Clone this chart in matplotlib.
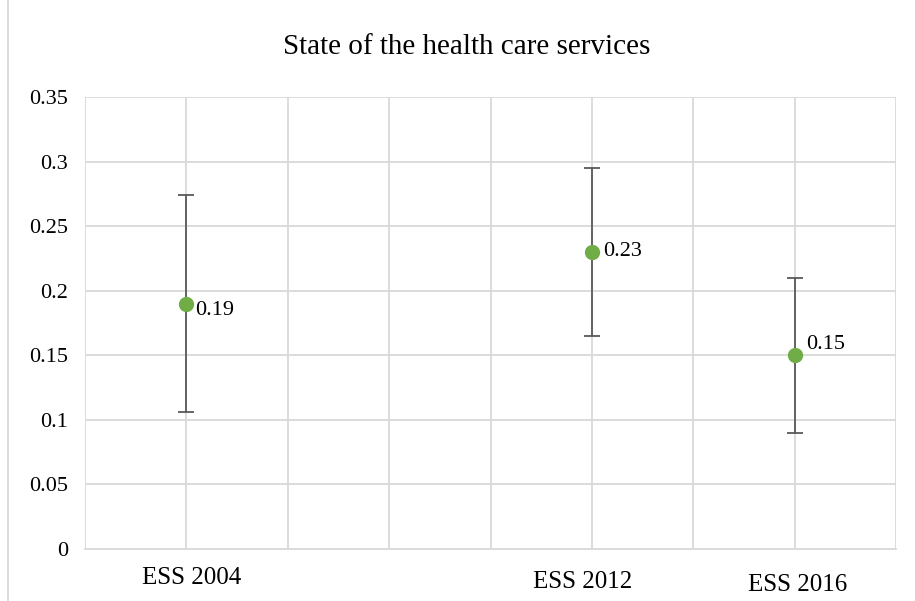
import numpy as np
import matplotlib.pyplot as plt
from matplotlib.lines import Line2D
from matplotlib.transforms import blended_transform_factory

plt.rcParams['font.family'] = ['Liberation Serif', 'DejaVu Serif']

# survey waves, means and 95% intervals
waves = ['ESS 2004', 'ESS 2012', 'ESS 2016']
years = [2004, 2012, 2016]
means = [0.19, 0.23, 0.15]
err = [0.084, 0.065, 0.06]
label_offsets = [(6, -5), (8, 0), (8, 8)]
wave_label_pos = [(4, 578), (-7, 582), (2, 585)]  # (dx pts, y px from top)

fig = plt.figure(figsize=(9.15, 6.01), dpi=100)
ax = fig.add_axes([85/915, 1-549/601, (896-85)/915, (549-97)/601])

ax.errorbar(years, means, yerr=err, fmt='none', ecolor='#595959',
            elinewidth=1.3, capsize=6, capthick=1.3, zorder=3)
ax.plot(years, means, 'o', color='#70AD47', markersize=10, zorder=4)

for x, y, (dx, dy) in zip(years, means, label_offsets):
    ax.annotate(f'{y:.2f}', (x, y), xytext=(dx, dy), textcoords='offset points',
                ha='left', va='center', fontsize=16, color='#000000')

ax.set_xlim(2002, 2018)
ax.set_ylim(0, 0.35)
ax.set_xticks(np.arange(2002, 2019, 2))
ax.set_xticklabels([])
ax.set_yticks(np.arange(0, 0.36, 0.05))
ax.set_yticklabels(['0', '0.05', '0.1', '0.15', '0.2', '0.25', '0.3', '0.35'])
ax.tick_params(axis='both', length=0, labelsize=16, pad=12)
ax.grid(True, color='#D9D9D9', linewidth=1.3)
ax.set_axisbelow(True)
for s in ['top', 'right', 'left']:
    ax.spines[s].set_visible(False)
ax.spines['bottom'].set_color('#D9D9D9')
ax.spines['bottom'].set_linewidth(1.3)

# wave names under the axis, in data x / figure y
trans = blended_transform_factory(ax.transData, fig.transFigure)
for name, x, (dx, ypx) in zip(waves, years, wave_label_pos):
    ax.annotate(name, (x, 1 - ypx/601), xycoords=trans, xytext=(dx, 0),
                textcoords='offset points', ha='center', va='center',
                fontsize=18, annotation_clip=False)

fig.text(467/915, 1-47/601, 'State of the health care services', ha='center',
         va='center', fontsize=21)

# outer chart border
fig.add_artist(Line2D([8/915, 8/915], [0, 1], color='#D9D9D9', linewidth=1.3))

fig.savefig('out.png', dpi=100)
